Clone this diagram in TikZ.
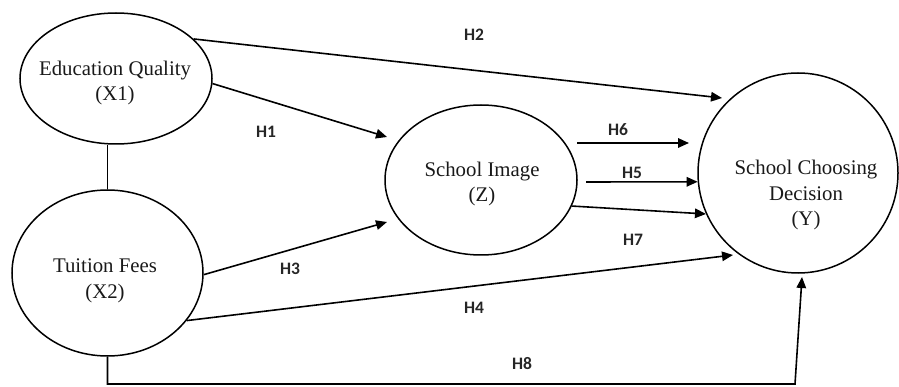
\documentclass[tikz,border=0pt]{standalone}
\usepackage{fontspec}
\setmainfont{Liberation Serif}
\newfontfamily\labelfont{Carlito}[UprightFont={* Bold}]
\usetikzlibrary{arrows.meta,shapes.geometric}
\begin{document}
\begin{tikzpicture}[x=1pt,y=-1pt,
  latent/.style={draw, ellipse, line width=1.5pt, inner sep=0pt},
  vartext/.style={align=center, font=\fontsize{20.8}{25.5}\selectfont, text=black!90},
  hyp/.style={font=\labelfont\fontsize{17.5}{20}\selectfont, text=black!85},
  arr/.style={line width=1.6pt, -{Triangle[length=11pt,width=9.5pt]}},
  plain/.style={line width=1.6pt}]
\useasboundingbox (0,0) rectangle (899,387);
% latent variables
\node[latent, minimum width=192pt, minimum height=131pt] (X1) at (116,78.5) {};
\node[latent, minimum width=191pt, minimum height=166pt] (X2) at (107.5,273) {};
\node[latent, minimum width=192pt, minimum height=150pt] (Z) at (481,180) {};
\node[latent, minimum width=200pt, minimum height=200pt] (Y) at (798,173) {};
\node[vartext] (X1t) at (115,83) {Education Quality\\(X1)};
\node[vartext] (X2t) at (105,281) {Tuition Fees\\(X2)};
\node[vartext] (Zt) at (482,184) {School Image\\(Z)};
\node[vartext] (Yt) at (806,195) {School Choosing\\Decision\\(Y)};
% free arrow ends
\coordinate (h2tip) at (722,98);
\coordinate (h1tip) at (387,137);
\coordinate (h3tip) at (387,222);
\coordinate (h4tip) at (733,255);
\coordinate (h6s) at (577,143);
\coordinate (h6tip) at (689,143);
\coordinate (h5s) at (586,182);
\coordinate (corner) at (795,384);
\coordinate (h8tip) at (802,277);
% connectors
\draw[plain] (X1.south -| X2.north) -- (X2.north);
\draw[arr] (X1.27) -- (h2tip);
\draw[arr] (X1.-3) -- (h1tip);
\draw[arr] (X2.-1) -- (h3tip);
\draw[arr] (X2.-31) -- (h4tip);
\draw[arr] (h6s) -- (h6tip);
\draw[arr] (h5s) -- (Y.185);
\draw[arr] (Z.-16) -- (Y.204);
\draw[arr] (X2.south) |- (corner) -- (h8tip);
% labels
\node[hyp] (H2) at (474,35) {H2};
\node[hyp] (H1) at (266,132) {H1};
\node[hyp] (H6) at (618,130) {H6};
\node[hyp] (H5) at (632,173) {H5};
\node[hyp] (H7) at (633,240) {H7};
\node[hyp] (H3) at (290,269) {H3};
\node[hyp] (H4) at (474,308) {H4};
\node[hyp] (H8) at (522,364) {H8};
\end{tikzpicture}
\end{document}
